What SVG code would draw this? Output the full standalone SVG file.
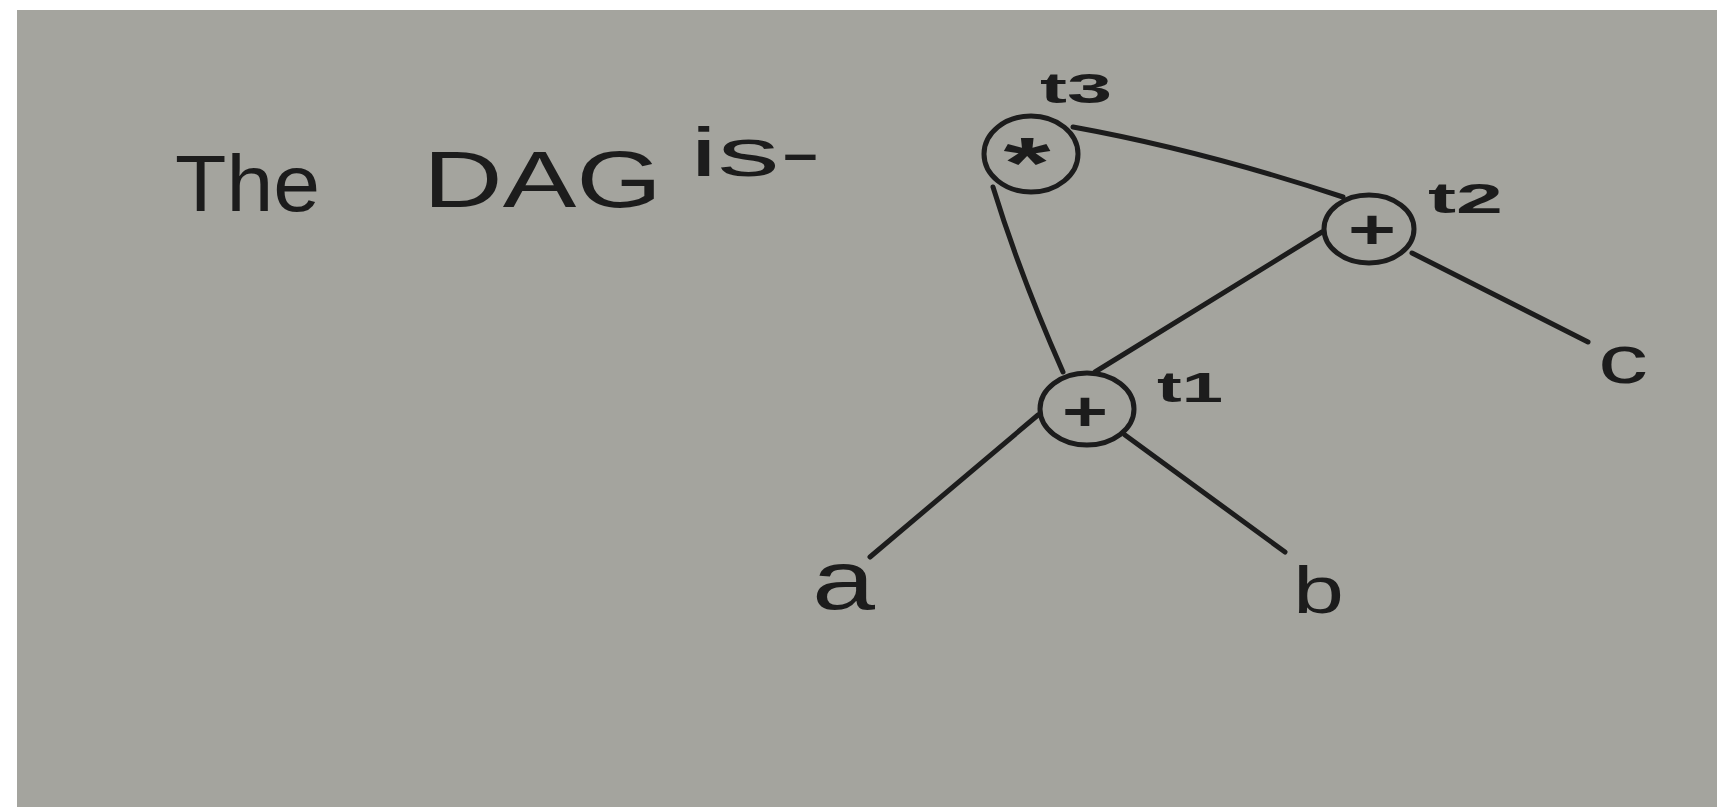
<svg xmlns="http://www.w3.org/2000/svg" width="1717" height="807" viewBox="0 0 1717 807">
<style>
.ink{fill:#1c1c1c;font-family:"Liberation Sans","DejaVu Sans",sans-serif}
.hand{font-weight:normal}
.lbl{font-weight:bold}
.edge{fill:none;stroke:#1c1c1c;stroke-width:5;stroke-linecap:round}
.node{fill:none;stroke:#1c1c1c;stroke-width:5}
</style>
<rect x="0" y="0" width="1717" height="807" fill="#ffffff"/>
<rect x="17" y="10" width="1700" height="797" fill="#a4a49e"/>
<g id="title">
<text class="ink hand" x="175" y="211" font-size="80" textLength="145" lengthAdjust="spacingAndGlyphs">The</text>
<text class="ink hand" x="423" y="207" font-size="80" textLength="239" lengthAdjust="spacingAndGlyphs">DAG</text>
<text class="ink hand" x="690" y="176" font-size="68" textLength="131" lengthAdjust="spacingAndGlyphs">is-</text>
</g>
<g id="connectors">
<path class="edge" d="M1073,127 Q1200,150 1343,197"/>
<path class="edge" d="M993,187 Q1020,275 1063,372"/>
<path class="edge" d="M1095,372 L1322,232"/>
<path class="edge" d="M1038,415 L870,557"/>
<path class="edge" d="M1125,435 L1285,552"/>
<path class="edge" d="M1412,253 L1588,342"/>
</g>
<g id="t3">
<ellipse class="node" cx="1031" cy="154" rx="47" ry="38"/>
<text class="ink lbl" x="1027" y="163" font-size="72" text-anchor="middle" dominant-baseline="central" textLength="47" lengthAdjust="spacingAndGlyphs">*</text>
<text class="ink lbl" x="1040" y="103" font-size="42" textLength="72" lengthAdjust="spacingAndGlyphs">t3</text>
</g>
<g id="t2">
<ellipse class="node" cx="1369" cy="229" rx="45" ry="34"/>
<text class="ink lbl" x="1372" y="228" font-size="56" text-anchor="middle" dominant-baseline="central" textLength="48" lengthAdjust="spacingAndGlyphs">+</text>
<text class="ink lbl" x="1428" y="213" font-size="42" textLength="75" lengthAdjust="spacingAndGlyphs">t2</text>
</g>
<g id="t1">
<ellipse class="node" cx="1087" cy="409" rx="47" ry="36"/>
<text class="ink lbl" x="1085" y="410" font-size="56" text-anchor="middle" dominant-baseline="central" textLength="46" lengthAdjust="spacingAndGlyphs">+</text>
<text class="ink lbl" x="1157" y="402" font-size="42" textLength="66" lengthAdjust="spacingAndGlyphs">t1</text>
</g>
<g id="a">
<text class="ink hand" x="812" y="609" font-size="84" textLength="63" lengthAdjust="spacingAndGlyphs">a</text>
</g>
<g id="b">
<text class="ink hand" x="1293" y="613" font-size="66" textLength="51" lengthAdjust="spacingAndGlyphs">b</text>
</g>
<g id="c">
<text class="ink hand" x="1598" y="383" font-size="68" textLength="50" lengthAdjust="spacingAndGlyphs">c</text>
</g>
</svg>
